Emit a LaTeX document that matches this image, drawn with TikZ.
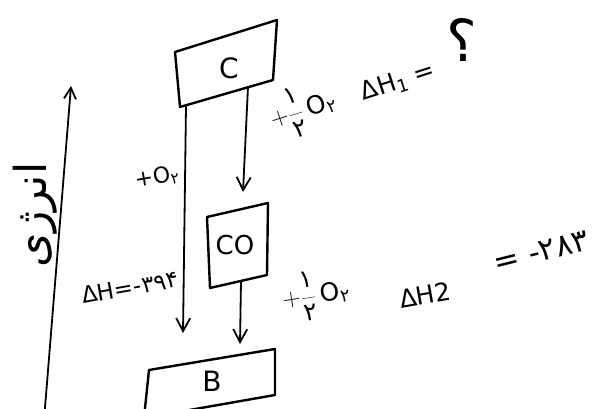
\documentclass[tikz,border=0pt]{standalone}
\usepackage{fontspec}
\setmainfont{DejaVu Sans}
\newfontfamily\pfont[Script=Arabic]{DejaVu Sans}
\TeXXeTstate=1
\usetikzlibrary{arrows.meta}
\tikzset{
  box/.style={line width=2.4pt, line join=round},
  arr/.style={line width=1.8pt, line cap=round,
    -{Straight Barb[length=13pt,width=14pt,line width=1.8pt]}},
  axisarr/.style={line width=1.8pt,
    -{Straight Barb[length=11pt,width=12pt,line width=1.8pt]}},
  boxtxt/.style={inner sep=0pt, font=\fontsize{28}{30}\selectfont},
  lbl/.style={inner sep=0pt, font=\fontsize{25}{27}\selectfont},
}
\newcommand{\fa}[1]{{\pfont #1}}
\newcommand{\halfp}{$+\displaystyle\frac{\mbox{\fa{۱}}}{\mbox{\fa{۲}}}$}
\newcommand{\otwo}{O\textsubscript{\fa{۲}}}
\begin{document}
\begin{tikzpicture}[x=1pt,y=1pt]
\useasboundingbox (0,0) rectangle (606,-409);
\clip (0,0) rectangle (606,-409);
% box C
\coordinate (c1) at (175,-52);
\coordinate (c2) at (277,-20);
\coordinate (c3) at (273,-80);
\coordinate (c4) at (180,-107);
\draw[box] (c1) -- (c2) -- (c3) -- (c4) -- cycle;
\node[boxtxt] (C) at (229,-68) {C};
% box CO
\coordinate (o1) at (207,-217);
\coordinate (o2) at (268,-203);
\coordinate (o3) at (267,-275);
\coordinate (o4) at (210,-288);
\draw[box] (o1) -- (o2) -- (o3) -- (o4) -- cycle;
\node[boxtxt, font=\fontsize{26}{28}\selectfont] (CO) at (235,-245) {CO};
% box B
\coordinate (b1) at (149,-370);
\coordinate (b2) at (275,-349);
\coordinate (b3) at (275,-395);
\coordinate (b4) at (144,-418);
\draw[box] (b1) -- (b2) -- (b3) -- (b4) -- cycle;
\node[boxtxt] (B) at (212,-381) {B};
% arrows
\coordinate (a1s) at (186,-106);
\coordinate (a1e) at (183,-333);
\coordinate (a2s) at (248,-87);
\coordinate (a2e) at (243,-192);
\coordinate (a3s) at (241,-281);
\coordinate (a3e) at (240,-344);
\draw[arr] (a1s) -- (a1e);
\draw[arr] (a2s) -- (a2e);
\draw[arr] (a3s) -- (a3e);
% axis
\coordinate (ax0) at (44,-420);
\coordinate (ax1) at (71,-86);
\draw[axisarr] (ax0) -- (ax1);
\node[inner sep=0pt, rotate=90, font=\fontsize{44}{46}\selectfont] (axlbl) at (35,-215) {\fa{\beginR انرژی\endR}};
% left labels
\node[lbl, rotate=10, font=\fontsize{22}{24}\selectfont] (lo2) at (157,-177) {+\otwo};
\node[lbl, rotate=10, font=\fontsize{23}{25}\selectfont] (ldh) at (130,-287) {ΔH=-\fa{۳۹۴}};
% label 1
\node[lbl, rotate=18] (l1a) at (303,-110) {\halfp\,\otwo};
\node[lbl, rotate=18] (l1b) at (398,-82) {ΔH\textsubscript{1} =};
\node[inner sep=0pt, font=\fontsize{58}{60}\selectfont] (l1c) at (462,-40) {\fa{؟}};
% label 2
\node[lbl, rotate=9] (l2a) at (316,-295) {\halfp\,\otwo};
\node[lbl, rotate=10] (l2b) at (425,-295) {ΔH2};
\node[lbl, rotate=14, font=\fontsize{31}{33}\selectfont] (l2c) at (541,-252) {= -\fa{۲۸۳}};
\end{tikzpicture}
\end{document}
